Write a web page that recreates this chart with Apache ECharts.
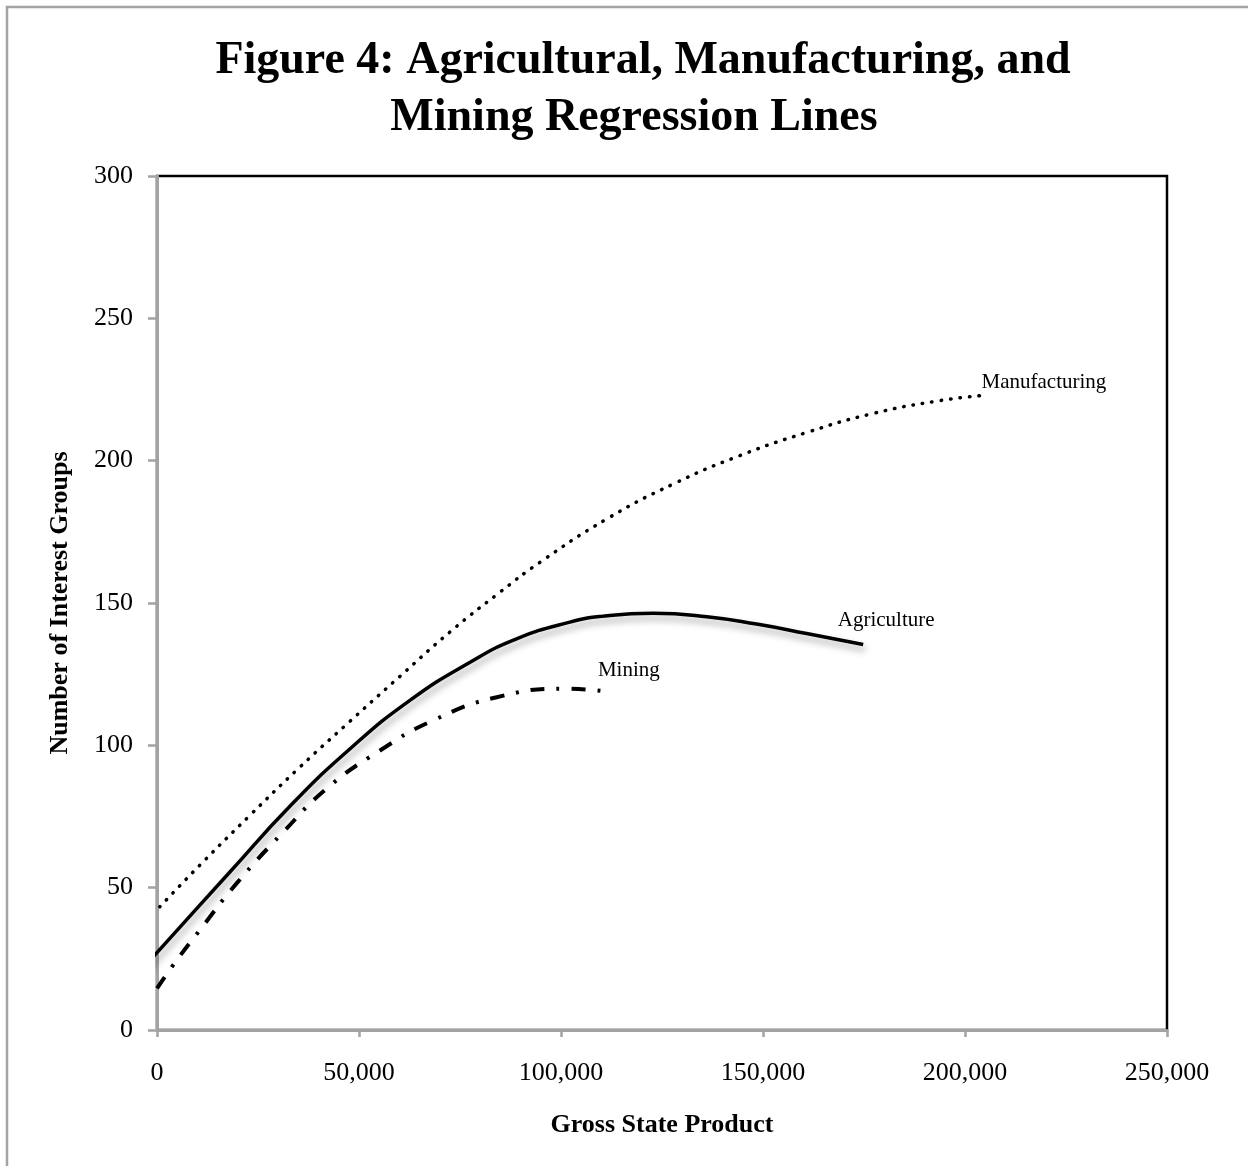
<!DOCTYPE html>
<html>
<head>
<meta charset="utf-8">
<script src="https://cdn.jsdelivr.net/npm/echarts@6/dist/echarts.min.js"></script>
<style>
html,body{margin:0;padding:0;background:#fff;}
#chart{width:1248px;height:1166px;}
</style>
</head>
<body>
<div id="chart"></div>
<script>
// Data (x = Gross State Product, y = Number of Interest Groups)
const agricultureX = [-2600, 0, 18100, 32900, 47800, 62600, 77500, 89000, 102200, 110000, 122800, 136100, 148400, 160800, 174800];
const agricultureY = [23.0, 27.2, 55.6, 78.6, 98.8, 115.8, 129.2, 137.4, 143.3, 145.3, 146.4, 145.2, 142.6, 139.3, 135.4];

const miningX = [0, 4000, 10600, 19700, 31300, 42000, 55200, 68400, 84100, 101400, 111600];
const miningY = [14.6, 22.8, 35.1, 51.5, 69.6, 84.8, 98.2, 108.8, 116.9, 119.9, 118.8];

const manufacturingX = [700, 10600, 23000, 35400, 47800, 60100, 72500, 84900, 94800, 111300, 127800, 144300, 160800, 177300, 193800, 203700];
const manufacturingY = [43.3, 57.9, 75.4, 92.4, 108.5, 124.2, 139.8, 153.8, 164.3, 179.5, 191.8, 201.8, 209.9, 216.6, 221.1, 222.8];

const xTicks = [0, 50000, 100000, 150000, 200000, 250000];
const yTicks = [0, 50, 100, 150, 200, 250, 300];

const titleLines = ['Figure 4: Agricultural, Manufacturing, and', 'Mining Regression Lines'];
const xName = 'Gross State Product';
const yName = 'Number of Interest Groups';

const zip = (xs, ys) => xs.map((x, i) => [x, ys[i]]);
const serif = "'Liberation Serif', 'Times New Roman', serif";
const fmt = v => v.toLocaleString('en-US');

const chart = echarts.init(document.getElementById('chart'), null, {renderer: 'canvas'});

function endMark(xs, ys, name, offset) {
  const i = xs.length - 1;
  return {
    silent: true,
    symbol: 'circle',
    symbolSize: 0,
    data: [{coord: [xs[i], ys[i]], value: name}],
    label: {
      show: true, position: 'inside', formatter: name, offset: offset,
      color: '#000', fontFamily: serif, fontSize: 21
    }
  };
}

const titleStyle = {fontFamily: serif, fontWeight: 'bold', fontSize: 46, fill: '#000', textAlign: 'center', textVerticalAlign: 'middle'};

const option = {
  backgroundColor: '#fff',
  animation: false,
  graphic: [
    {
      type: 'rect', silent: true, z: -1,
      shape: {x: 7, y: 7, width: 1400, height: 1400},
      style: {fill: 'none', stroke: '#a3a3a3', lineWidth: 2.5}
    },
    {type: 'text', silent: true, x: 643, y: 61, style: Object.assign({text: titleLines[0]}, titleStyle)},
    {type: 'text', silent: true, x: 634, y: 118, style: Object.assign({text: titleLines[1]}, titleStyle)}
  ],
  grid: {
    left: 157, top: 176, right: 81, bottom: 136,
    show: true, borderColor: '#000', borderWidth: 2.5, backgroundColor: 'transparent'
  },
  xAxis: {
    type: 'value', min: xTicks[0], max: xTicks[xTicks.length - 1], interval: 50000,
    name: xName, nameLocation: 'middle', nameGap: 82,
    nameTextStyle: {fontFamily: serif, fontWeight: 'bold', fontSize: 26, color: '#000'},
    axisLine: {show: true, onZero: false, lineStyle: {color: '#a3a3a3', width: 3}},
    axisTick: {show: true, length: 7, lineStyle: {color: '#a3a3a3', width: 2.5}},
    axisLabel: {formatter: fmt, fontFamily: serif, fontSize: 26, color: '#000', margin: 30},
    splitLine: {show: false}
  },
  yAxis: {
    type: 'value', min: yTicks[0], max: yTicks[yTicks.length - 1], interval: 50,
    name: yName, nameLocation: 'middle', nameGap: 84, nameRotate: 90,
    nameTextStyle: {fontFamily: serif, fontWeight: 'bold', fontSize: 26, color: '#000'},
    axisLine: {show: true, onZero: false, lineStyle: {color: '#a3a3a3', width: 3}},
    axisTick: {show: true, length: 9, lineStyle: {color: '#a3a3a3', width: 2.5}},
    axisLabel: {fontFamily: serif, fontSize: 26, color: '#000', margin: 24},
    splitLine: {show: false}
  },
  series: [
    {
      name: 'Manufacturing', type: 'line', data: zip(manufacturingX, manufacturingY),
      smooth: 0.5, showSymbol: false, clip: false, z: 3,
      lineStyle: {color: '#000', width: 3.5, type: [0.5, 9], cap: 'round'},
      markPoint: endMark(manufacturingX, manufacturingY, 'Manufacturing', [64, -13])
    },
    {
      name: 'Agriculture', type: 'line', data: zip(agricultureX, agricultureY),
      smooth: 0.5, showSymbol: false, clip: false, z: 3,
      lineStyle: {color: '#000', width: 3.5, shadowColor: 'rgba(0,0,0,0.35)', shadowBlur: 7, shadowOffsetX: 2, shadowOffsetY: 5},
      markPoint: endMark(agricultureX, agricultureY, 'Agriculture', [23, -24])
    },
    {
      name: 'Mining', type: 'line', data: zip(miningX, miningY),
      smooth: 0.5, showSymbol: false, clip: false, z: 3,
      lineStyle: {color: '#000', width: 4, type: [14, 12, 3, 12], cap: 'butt'},
      markPoint: endMark(miningX, miningY, 'Mining', [21, -21])
    }
  ]
};
chart.setOption(option);
</script>
</body>
</html>
